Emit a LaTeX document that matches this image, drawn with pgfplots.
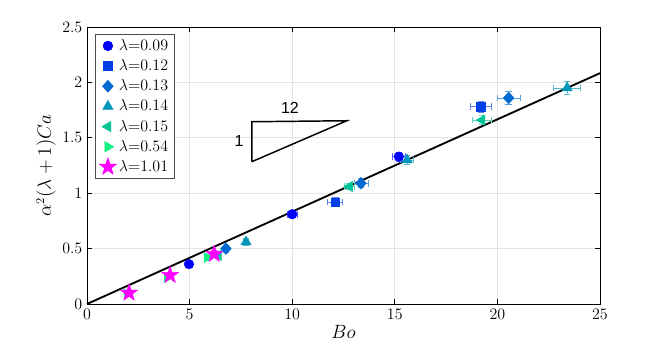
\documentclass[border=0pt]{standalone}
\usepackage{fontspec}
\usepackage{pgfplots}
\pgfplotsset{compat=1.18}
\newfontfamily\helv{Liberation Sans}

\definecolor{c1}{RGB}{0,0,255}
\definecolor{c2}{RGB}{0,64,230}
\definecolor{c3}{RGB}{0,105,210}
\definecolor{c4}{RGB}{0,150,185}
\definecolor{c5}{RGB}{0,195,150}
\definecolor{c6}{RGB}{20,240,130}
\definecolor{c7}{RGB}{255,0,255}

% filled five-point star
\pgfdeclareplotmark{fstar}{%
  \pgfpathmoveto{\pgfpointpolar{90}{1.5\pgfplotmarksize}}%
  \pgfpathlineto{\pgfpointpolar{126}{0.6\pgfplotmarksize}}%
  \pgfpathlineto{\pgfpointpolar{162}{1.5\pgfplotmarksize}}%
  \pgfpathlineto{\pgfpointpolar{198}{0.6\pgfplotmarksize}}%
  \pgfpathlineto{\pgfpointpolar{234}{1.5\pgfplotmarksize}}%
  \pgfpathlineto{\pgfpointpolar{270}{0.6\pgfplotmarksize}}%
  \pgfpathlineto{\pgfpointpolar{306}{1.5\pgfplotmarksize}}%
  \pgfpathlineto{\pgfpointpolar{342}{0.6\pgfplotmarksize}}%
  \pgfpathlineto{\pgfpointpolar{18}{1.5\pgfplotmarksize}}%
  \pgfpathlineto{\pgfpointpolar{54}{0.6\pgfplotmarksize}}%
  \pgfpathclose
  \pgfusepathqfillstroke}

\pgfplotstableread{
x     y     ex    ey
4.97  0.36  0.10  0.02
10.0  0.81  0.25  0.03
15.2  1.33  0.30  0.04
}\lamA
\pgfplotstableread{
x     y     ex    ey
12.1  0.92  0.36  0.04
19.2  1.78  0.50  0.05
}\lamB
\pgfplotstableread{
x     y     ex    ey
6.77  0.50  0.12  0.03
13.35 1.09  0.34  0.04
20.55 1.86  0.57  0.055
}\lamC
\pgfplotstableread{
x     y     ex    ey
7.75  0.56  0.12  0.03
15.6  1.30  0.33  0.04
23.4  1.95  0.67  0.055
}\lamD
\pgfplotstableread{
x     y     ex    ey
6.40  0.44  0.10  0.03
12.8  1.06  0.25  0.03
19.25 1.66  0.47  0.04
}\lamE
\pgfplotstableread{
x     y     ex    ey
1.95  0.09  0.05  0.02
3.90  0.24  0.08  0.02
5.85  0.42  0.10  0.03
}\lamF
\pgfplotstableread{
x     y     ex    ey
2.05  0.10  0.05  0.02
4.05  0.26  0.08  0.02
6.20  0.45  0.10  0.03
}\lamG

\begin{document}
\begin{tikzpicture}
\begin{axis}[
  scale only axis,
  width=384.75pt, height=207.75pt,
  xmin=0, xmax=25, ymin=0, ymax=2.5,
  xtick={0,5,...,25}, ytick={0,0.5,...,2.5},
  tick align=inside,
  major tick length=4pt,
  grid=major,
  major grid style={gray!22, line width=0.5pt},
  axis line style={line width=0.6pt},
  tick style={line width=0.5pt, black},
  tick label style={font=\fontsize{12}{14}\selectfont},
  xlabel={$Bo$}, ylabel={$\alpha^2(\lambda+1)Ca$},
  label style={font=\fontsize{13.5}{15}\selectfont},
  xlabel style={yshift=2pt},
  ylabel style={yshift=-2pt},
  yticklabel style={/pgf/number format/.cd, fixed, precision=1},
  clip=false,
  legend style={at={(rel axis cs:0.016,0.976)}, anchor=north west,
    font=\fontsize{12}{13}\selectfont, draw=black!70, line width=0.5pt,
    row sep=1.3pt, inner xsep=3pt, inner ysep=2pt,
    legend cell align=left},
  error bars/error bar style={line width=0.6pt},
  error bars/error mark options={rotate=90, mark size=2.5pt, line width=0.6pt},
]
\path (rel axis cs:-0.1696,-0.1805) rectangle (rel axis cs:1.1248,1.0975);

\addplot[black, line width=1.4pt, no markers, forget plot] coordinates {(0,0) (25,2.0833)};
\addplot[black, line width=1.1pt, no markers, forget plot] coordinates {(8.03,1.284) (8.03,1.645) (12.66,1.654) (8.03,1.284)};
\node[font=\helv\fontsize{12}{14}\selectfont] at (axis cs:9.89,1.77) {12};
\node[font=\helv\fontsize{12}{14}\selectfont] at (axis cs:7.41,1.47) {1};

\addplot[c1, only marks, mark=*, mark size=3.6pt, mark options={fill=c1, draw=c1},
  error bars/.cd, x dir=both, x explicit, y dir=both, y explicit, error bar style={c1!65}]
  table[x=x, y=y, x error=ex, y error=ey] {\lamA};
\addlegendentry{$\lambda$=0.09}
\addplot[c2, only marks, mark=square*, mark size=3.2pt, mark options={fill=c2, draw=c2},
  error bars/.cd, x dir=both, x explicit, y dir=both, y explicit, error bar style={c2!65}]
  table[x=x, y=y, x error=ex, y error=ey] {\lamB};
\addlegendentry{$\lambda$=0.12}
\addplot[c3, only marks, mark=diamond*, mark size=4.4pt, mark options={fill=c3, draw=c3, xscale=1.2},
  error bars/.cd, x dir=both, x explicit, y dir=both, y explicit, error bar style={c3!65}]
  table[x=x, y=y, x error=ex, y error=ey] {\lamC};
\addlegendentry{$\lambda$=0.13}
\addplot[c4, only marks, mark=triangle*, mark size=4.4pt, mark options={fill=c4, draw=c4},
  error bars/.cd, x dir=both, x explicit, y dir=both, y explicit, error bar style={c4!65}]
  table[x=x, y=y, x error=ex, y error=ey] {\lamD};
\addlegendentry{$\lambda$=0.14}
\addplot[c5, only marks, mark=triangle*, mark size=4.4pt, mark options={fill=c5, draw=c5, rotate=90},
  error bars/.cd, x dir=both, x explicit, y dir=both, y explicit, error bar style={c5!65}]
  table[x=x, y=y, x error=ex, y error=ey] {\lamE};
\addlegendentry{$\lambda$=0.15}
\addplot[c6, only marks, mark=triangle*, mark size=4.4pt, mark options={fill=c6, draw=c6, rotate=-90},
  error bars/.cd, x dir=both, x explicit, y dir=both, y explicit, error bar style={c6!65}]
  table[x=x, y=y, x error=ex, y error=ey] {\lamF};
\addlegendentry{$\lambda$=0.54}
\addplot[c7, only marks, mark=fstar, mark size=4.4pt, mark options={fill=c7, draw=c7},
  error bars/.cd, x dir=both, x explicit, y dir=both, y explicit, error bar style={c7!65}]
  table[x=x, y=y, x error=ex, y error=ey] {\lamG};
\addlegendentry{$\lambda$=1.01}
\end{axis}
\end{tikzpicture}
\end{document}
